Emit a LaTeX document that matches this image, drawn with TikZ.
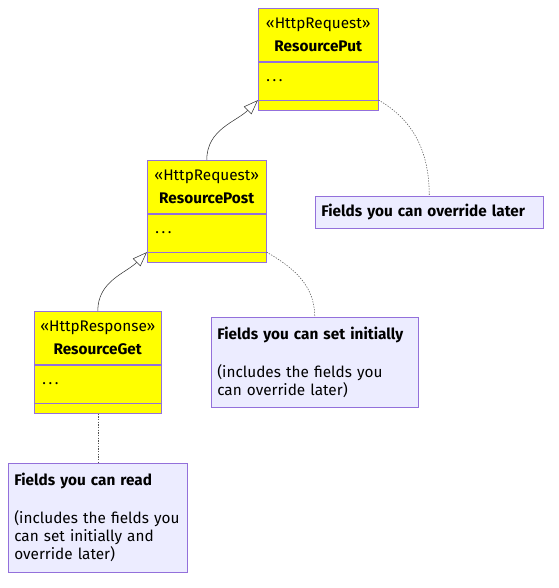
\documentclass[tikz,border=0pt]{standalone}
\usepackage{fontspec}
\setmainfont{Fira Sans}
\usetikzlibrary{positioning,arrows.meta}
\definecolor{classfill}{HTML}{FFFF00}
\definecolor{classline}{HTML}{9370DB}
\definecolor{notefill}{HTML}{ECECFF}
\definecolor{linkline}{HTML}{333333}

\begin{document}
\begin{tikzpicture}[x=0.75pt,y=-0.75pt,
                    every node/.style={font=\fontsize{11.5}{13.5}\selectfont},
                    headnode/.style={rectangle, draw=classline, fill=classfill, align=center, inner sep=0pt, minimum height=39.75pt},
                    bodynode/.style={rectangle, draw=classline, fill=classfill, align=left, inner xsep=6pt, inner ysep=0pt, minimum height=28.5pt},
                    footnode/.style={rectangle, draw=classline, fill=classfill, inner sep=0pt, minimum height=7.5pt},
                    notenode/.style={rectangle, draw=classline, fill=notefill, align=left, inner xsep=4.5pt, inner ysep=0pt, anchor=north west},
                    inherit/.style={draw=linkline, -{Triangle[open, length=11pt, width=8pt, fill=white]}},
                    notelink/.style={draw=linkline!85, dash pattern=on 1pt off 1pt}]
    \useasboundingbox (0,0) rectangle (559,588);
    \node[headnode, minimum width=90pt, anchor=north west] (puthead) at (258,8) {«HttpRequest»\\[3.75pt]\textbf{ResourcePut}};
    \node[bodynode, text width=78pt] (putbody) [below=0pt of puthead] {.\kern2pt.\kern2pt.};
    \node[footnode, minimum width=90pt] (putfoot) [below=0pt of putbody] {};
    \node[headnode, minimum width=89.25pt, anchor=north west] (posthead) at (147,160) {«HttpRequest»\\[3.75pt]\textbf{ResourcePost}};
    \node[bodynode, text width=77.25pt] (postbody) [below=0pt of posthead] {.\kern2pt.\kern2pt.};
    \node[footnode, minimum width=89.25pt] (postfoot) [below=0pt of postbody] {};
    \node[headnode, minimum width=95.25pt, anchor=north west] (gethead) at (34,311) {«HttpResponse»\\[3.75pt]\textbf{ResourceGet}};
    \node[bodynode, text width=83.25pt] (getbody) [below=0pt of gethead] {.\kern2pt.\kern2pt.};
    \node[footnode, minimum width=95.25pt] (getfoot) [below=0pt of getbody] {};
    \node[notenode, text width=162pt, minimum height=24pt] (overnote) at (315,196) {\textbf{Fields you can override later}};
    \node[notenode, text width=146.25pt, minimum height=67.5pt] (setnote) at (211,317) {\textbf{Fields you can set initially}\\[15pt](includes the fields you\\can override later)};
    \node[notenode, text width=125.25pt, minimum height=81.75pt] (readnote) at (8,463) {\textbf{Fields you can read}\\[15pt](includes the fields you\\can set initially and\\override later)};
    \draw[inherit] (posthead.north) to[out=90, in=225] (putbody.south west);
    \draw[inherit] (gethead.north) to[out=90, in=225] (postbody.south west);
    \draw[notelink] (putbody.south east) to[out=-30, in=90] (overnote.north);
    \draw[notelink] (postbody.south east) to[out=-30, in=90] (setnote.north);
    \draw[notelink] (getfoot.south) -- (readnote.north);
\end{tikzpicture}
\end{document}
